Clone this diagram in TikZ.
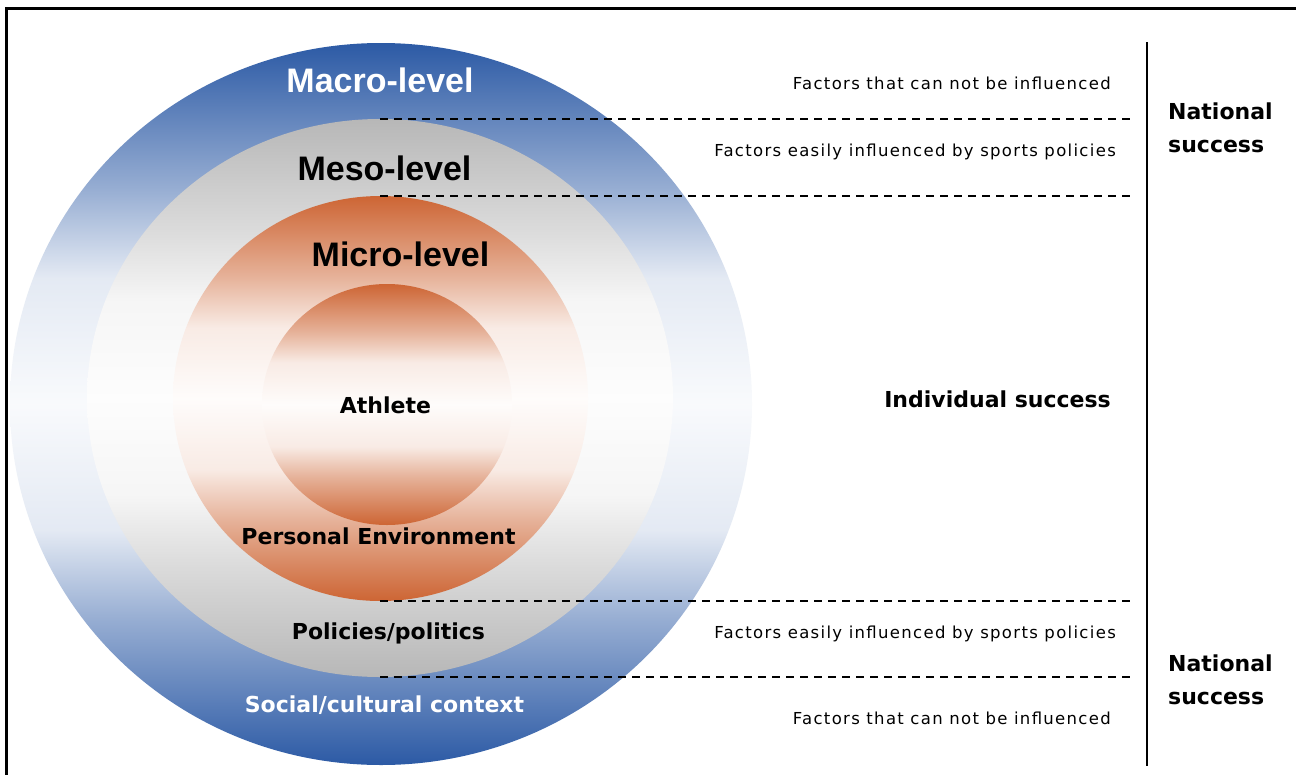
\documentclass[tikz,border=0pt]{standalone}
\usepackage{fontspec}
\setmainfont{DejaVu Sans}
\newfontfamily\arialfont{Liberation Sans}
\newfontfamily\spacedfont{DejaVu Sans}[LetterSpace=8]
\usetikzlibrary{shapes.geometric}
\definecolor{macroblue}{RGB}{44,90,165}
\definecolor{mesogrey}{RGB}{183,183,183}
\definecolor{microorange}{RGB}{205,101,52}
\colorlet{macrohalf}{macroblue!50!white}
\colorlet{macrolow}{macroblue!13!white}
\colorlet{macromid}{macroblue!3!white}
\colorlet{mesohalf}{mesogrey!50!white}
\colorlet{mesolow}{mesogrey!13!white}
\colorlet{mesomid}{mesogrey!3!white}
\colorlet{microhalf}{microorange!50!white}
\colorlet{microlow}{microorange!13!white}
\colorlet{micromid}{microorange!2!white}
\pgfdeclareverticalshading{bandblue}{100bp}{color(0bp)=(macroblue); color(25bp)=(macroblue); color(35bp)=(macrohalf); color(41.25bp)=(macrolow); color(50bp)=(macromid); color(58.75bp)=(macrolow); color(65bp)=(macrohalf); color(75bp)=(macroblue); color(100bp)=(macroblue)}
\pgfdeclareverticalshading{bandgrey}{100bp}{color(0bp)=(mesogrey); color(25bp)=(mesogrey); color(35bp)=(mesohalf); color(41.25bp)=(mesolow); color(50bp)=(mesomid); color(58.75bp)=(mesolow); color(65bp)=(mesohalf); color(75bp)=(mesogrey); color(100bp)=(mesogrey)}
\pgfdeclareverticalshading{bandorange}{100bp}{color(0bp)=(microorange); color(25bp)=(microorange); color(35bp)=(microhalf); color(41.25bp)=(microlow); color(50bp)=(micromid); color(58.75bp)=(microlow); color(65bp)=(microhalf); color(75bp)=(microorange); color(100bp)=(microorange)}
\tikzset{
  ring/.style={ellipse, inner sep=0pt, draw=none},
  leveltitle/.style={font=\arialfont\bfseries\fontsize{34}{40}\selectfont, anchor=base, inner sep=0pt},
  ringlabel/.style={font=\bfseries\fontsize{22}{26}\selectfont, anchor=base, inner sep=0pt},
  factor/.style={font=\spacedfont\fontsize{16.5}{20}\selectfont, anchor=base east, inner sep=0pt},
  divider/.style={dashed, dash pattern=on 8pt off 6pt, line width=1.4pt},
  success/.style={font=\bfseries\fontsize{22}{33}\selectfont, align=left, anchor=west, inner sep=0pt}
}
\begin{document}
\begin{tikzpicture}[x=1pt,y=-1pt]
\useasboundingbox (0,0) rectangle (1296,774);
\fill[white] (0,0) rectangle (1296,774);
% frame
\draw[line width=2.6pt] (1300,8.7) -- (6.7,8.7) -- (6.7,780);
% rings
\node[ring, minimum width=742pt, minimum height=722pt, shading=bandblue] (macro) at (381,404) {};
\node[ring, minimum width=586pt, minimum height=558pt, shading=bandgrey] (meso) at (380,398) {};
\node[ring, minimum width=415pt, minimum height=405pt, shading=bandorange] (micro) at (380.5,398.5) {};
\node[ring, minimum width=250pt, minimum height=241pt, shading=bandorange] (athletering) at (387,404.5) {};
% titles
\node[leveltitle, text=white] (macrot) at (380,92) {Macro-level};
\node[leveltitle] (mesot) at (384.5,180) {Meso-level};
\node[leveltitle] (microt) at (400.5,266) {Micro-level};
\node[ringlabel] (athlete) at (385.5,413) {Athlete};
\node[ringlabel] (personal) at (378.5,544) {Personal Environment};
\node[ringlabel] (policies) at (388.5,639) {Policies/politics};
\node[ringlabel, text=white] (social) at (384.5,712) {Social/cultural context};
% dashed dividers
\coordinate (d1a) at (380,119); \coordinate (d1b) at (1130,119);
\coordinate (d2a) at (380,196); \coordinate (d2b) at (1130,196);
\coordinate (d3a) at (380,601); \coordinate (d3b) at (1130,601);
\coordinate (d4a) at (380,677); \coordinate (d4b) at (1130,677);
\draw[divider] (d1a) -- (d1b);
\draw[divider] (d2a) -- (d2b);
\draw[divider] (d3a) -- (d3b);
\draw[divider] (d4a) -- (d4b);
% factor texts
\node[factor] (f1) at (1111,89) {Factors that can not be influenced};
\node[factor] (f2) at (1116,156) {Factors easily influenced by sports policies};
\node[factor] (f3) at (1116,638) {Factors easily influenced by sports policies};
\node[factor] (f4) at (1111,724) {Factors that can not be influenced};
\node[ringlabel] (indiv) at (997.5,407) {Individual success};
% vertical separator
\coordinate (vtop) at (1147,42);
\coordinate (vbot) at (1147,766);
\draw[line width=2pt] (vtop) -- (vbot);
\node[success] (nat1) at (1168,127.5) {National\\success};
\node[success] (nat2) at (1168,679.5) {National\\success};
\end{tikzpicture}
\end{document}
